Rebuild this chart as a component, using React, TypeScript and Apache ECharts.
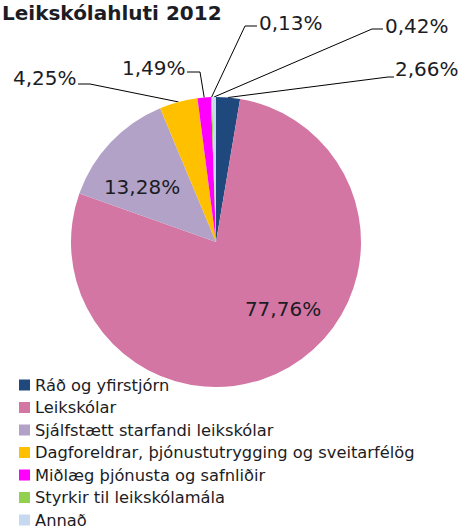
import React, { useEffect, useRef } from "react";
import * as echarts from "echarts";

const categories = [
  "Ráð og yfirstjórn",
  "Leikskólar",
  "Sjálfstætt starfandi leikskólar",
  "Dagforeldrar, þjónustutrygging og sveitarfélög",
  "Miðlæg þjónusta og safnliðir",
  "Styrkir til leikskólamála",
  "Annað",
];
const values = [2.66, 77.76, 13.28, 4.25, 1.49, 0.13, 0.42];
const colors = ["#1F497D", "#D376A3", "#B3A2C7", "#FFC000", "#FF00FF", "#92D050", "#C6D9F1"];
const insideLabels = [false, true, true, false, false, false, false];

// label placement (text anchor + leader line elbow/end), by data index
const labelPlacement: Record<number, any> = {
  0: { x: 395, y: 69, align: "left", elbow: [388, 77], end: [394, 77] },
  1: { x: 283, y: 309, align: "center" },
  2: { x: 142, y: 187, align: "center" },
  3: { x: 13, y: 78, align: "left", elbow: [90, 84], end: [78, 84] },
  4: { x: 122, y: 68, align: "left", elbow: [200, 72], end: [187, 72] },
  5: { x: 259, y: 23, align: "left", elbow: [245, 26], end: [257, 26] },
  6: { x: 385, y: 26, align: "left", elbow: [372, 29], end: [383, 29] },
};

const FONT = "'DejaVu Sans', sans-serif";

export default function App() {
  const ref = useRef<HTMLDivElement>(null);
  useEffect(() => {
    if (!ref.current) return;
    const chart = echarts.init(ref.current, undefined, { renderer: "svg" });
    chart.setOption({
      animation: false,
      backgroundColor: "#ffffff",
      title: {
        text: "Leikskólahluti 2012",
        left: 2,
        top: 3,
        padding: 0,
        textStyle: { fontFamily: FONT, fontWeight: "bold", fontSize: 20, color: "#1c1c24" },
      },
      legend: {
        orient: "vertical",
        left: 19,
        top: 377,
        height: 200,
        padding: 0,
        icon: "rect",
        itemWidth: 11,
        itemHeight: 11,
        itemGap: 6.5,
        textStyle: { fontFamily: FONT, fontSize: 16.3, color: "#1c1c24", lineHeight: 16 },
        data: categories,
      },
      series: [
        {
          type: "pie",
          center: [216, 242],
          radius: 145,
          startAngle: 90,
          clockwise: true,
          avoidLabelOverlap: false,
          label: {
            show: true,
            position: "outside",
            fontFamily: FONT,
            fontSize: 20,
            color: "#1c1c24",
            formatter: (p: any) => p.value.toFixed(2).replace(".", ",") + "%",
          },
          labelLine: { show: true, length: 10, length2: 10, lineStyle: { color: "#000", width: 1 } },
          labelLayout: (params: any) => {
            const pl = labelPlacement[params.dataIndex];
            if (!pl) return {};
            const out: any = { x: pl.x, y: pl.y, align: pl.align, verticalAlign: "middle" };
            if (pl.elbow && params.labelLinePoints) {
              out.labelLinePoints = [params.labelLinePoints[0], pl.elbow, pl.end];
            }
            return out;
          },
          data: categories.map((name, i) => ({
            name,
            value: values[i],
            itemStyle: { color: colors[i] },
            label: insideLabels[i] ? { position: "inside" } : undefined,
            labelLine: insideLabels[i] ? { show: false } : undefined,
          })),
        },
      ],
    });
    return () => chart.dispose();
  }, []);
  return (
    <div
      ref={ref}
      style={{ position: "absolute", left: 0, top: 0, width: 459, height: 529 }}
    />
  );
}
